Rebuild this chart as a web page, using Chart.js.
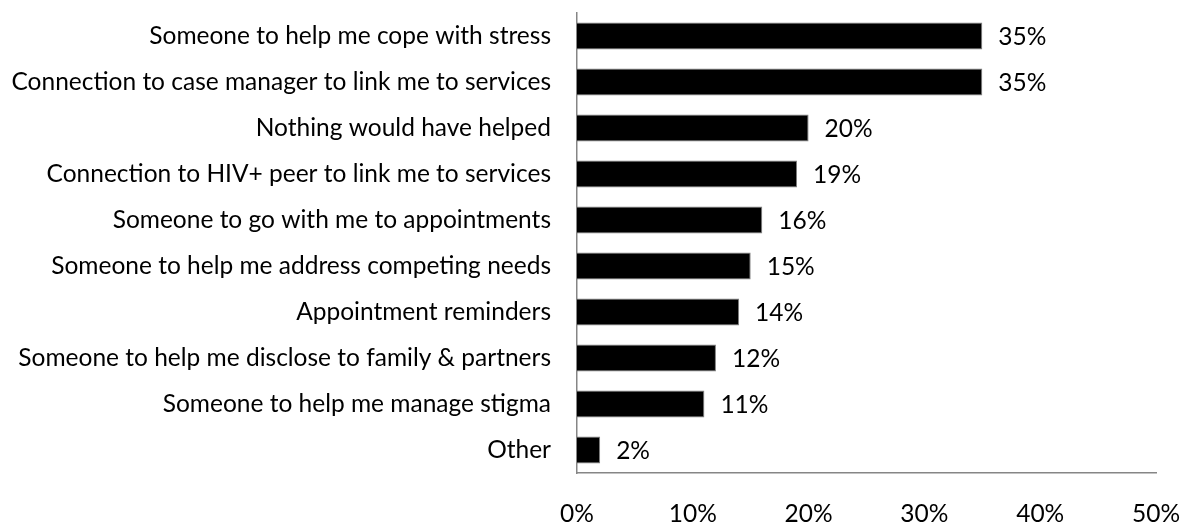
<!DOCTYPE html>
<html>
<head>
<meta charset="utf-8">
<script src="https://cdn.jsdelivr.net/npm/chart.js@4"></script>
<style>
  html, body { margin: 0; padding: 0; background: #fff; }
  #wrap { width: 1180px; height: 525px; position: relative; }
</style>
</head>
<body>
<div id="wrap"><canvas id="chart"></canvas></div>
<script>
'use strict';

// ── Data ───────────────────────────────────────────────
const categories = [
  'Someone to help me cope with stress',
  'Connection to case manager to link me to services',
  'Nothing would have helped',
  'Connection to HIV+ peer to link me to services',
  'Someone to go with me to appointments',
  'Someone to help me address competing needs',
  'Appointment reminders',
  'Someone to help me disclose to family & partners',
  'Someone to help me manage stigma',
  'Other',
];
const percentValues = [35, 35, 20, 19, 16, 15, 14, 12, 11, 2];
const tickValues = [0, 10, 20, 30, 40, 50];

const FONT = 'Lato, "Open Sans", sans-serif';
const FONT_SIZE = 24.5;
const AXIS_GREY = '#868686';

// Draws "NN%" just past the end of each bar
const valueLabels = {
  id: 'valueLabels',
  afterDatasetsDraw(chart) {
    const { ctx } = chart;
    const meta = chart.getDatasetMeta(0);
    ctx.save();
    ctx.font = FONT_SIZE + 'px ' + FONT;
    ctx.fillStyle = '#000';
    ctx.textAlign = 'left';
    ctx.textBaseline = 'middle';
    meta.data.forEach((bar, i) => {
      ctx.fillText(percentValues[i] + '%', bar.x + 16, bar.y + 1);
    });
    ctx.restore();
  },
};

function noEdgePadding(axis) {
  axis.paddingLeft = 0;
  axis.paddingRight = 0;
  axis.paddingTop = 0;
  axis.paddingBottom = 0;
}

new Chart(document.getElementById('chart').getContext('2d'), {
  type: 'bar',
  data: {
    labels: categories,
    datasets: [{
      data: percentValues,
      backgroundColor: '#000',
      borderColor: '#7f7f7f',
      borderWidth: 1,
      categoryPercentage: 0.59,
      barPercentage: 1,
    }],
  },
  options: {
    indexAxis: 'y',
    responsive: true,
    maintainAspectRatio: false,
    animation: false,
    layout: { padding: { top: 13, right: 24, left: 0, bottom: 0 } },
    plugins: {
      legend: { display: false },
      tooltip: { enabled: false },
    },
    scales: {
      x: {
        min: 0,
        max: 50,
        afterBuildTicks(axis) { axis.ticks = tickValues.map(v => ({ value: v })); },
        afterFit(axis) { axis.height = 52; noEdgePadding(axis); },
        grid: { display: false, drawTicks: false },
        border: { display: true, color: AXIS_GREY, width: 1.5 },
        ticks: {
          padding: 26,
          color: '#000',
          maxRotation: 0,
          font: { family: FONT, size: FONT_SIZE },
          callback: v => v + '%',
        },
      },
      y: {
        afterFit(axis) { axis.width = 577; noEdgePadding(axis); },
        grid: { display: false, drawTicks: false },
        border: { display: true, color: AXIS_GREY, width: 1.5 },
        ticks: {
          padding: 26,
          color: '#000',
          font: { family: FONT, size: FONT_SIZE },
        },
      },
    },
  },
  plugins: [valueLabels],
});
</script>
</body>
</html>
